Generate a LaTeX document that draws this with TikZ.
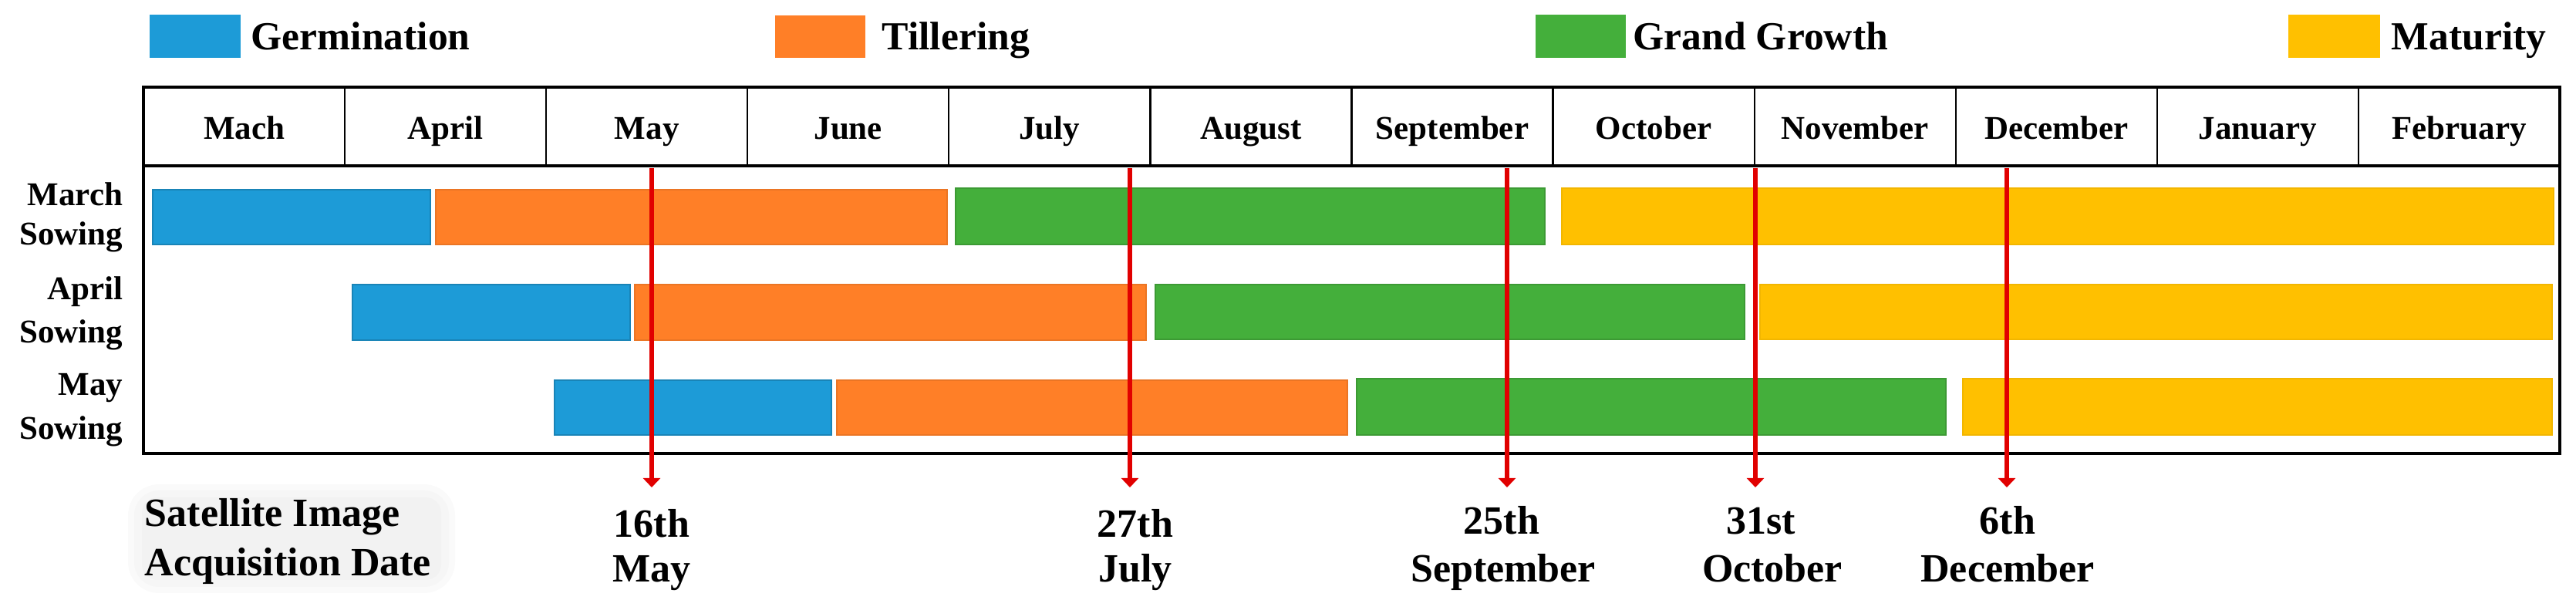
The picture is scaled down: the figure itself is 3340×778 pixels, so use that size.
\documentclass[tikz,border=0pt]{standalone}
\usepackage{fontspec}
\setmainfont{Liberation Serif}
\usetikzlibrary{arrows.meta}
\definecolor{cgerm}{HTML}{1D9BD7}
\definecolor{ctill}{HTML}{FF7F27}
\definecolor{cgrand}{HTML}{44AF3B}
\definecolor{cmat}{HTML}{FFC000}
\definecolor{cred}{HTML}{E10000}
\begin{document}
\begin{tikzpicture}[x=0.25pt,y=-0.25pt,
  lgtext/.style={font=\bfseries\fontsize{12.9}{15}\selectfont, anchor=base west, inner sep=0pt},
  mtext/.style={font=\bfseries\fontsize{10.75}{13}\selectfont, anchor=base, inner sep=0pt},
  rtext/.style={font=\bfseries\fontsize{10.75}{13}\selectfont, anchor=base east, inner sep=0pt},
  dtext/.style={font=\bfseries\fontsize{13}{15}\selectfont, anchor=base, inner sep=0pt},
  stext/.style={font=\bfseries\fontsize{13}{15}\selectfont, anchor=base west, inner sep=0pt},
  bar/.style={line width=0.3pt},
  germ/.style={bar, fill=cgerm, draw=cgerm!85!black},
  till/.style={bar, fill=ctill, draw=ctill!92!black},
  grand/.style={bar, fill=cgrand, draw=cgrand!88!black},
  mat/.style={bar, fill=cmat, draw=cmat!95!black},
  frame/.style={draw=black, line width=1pt},
  divider/.style={draw=black, line width=0.55pt},
  acq/.style={draw=cred, line width=1.6pt, -{Triangle[width=5.5pt,length=3pt]}}
]
\useasboundingbox (0,0) rectangle (3340,778);

% ---------- legend ----------
\fill[cgerm] (194,19) rectangle (312,75);
\node[lgtext] (lg1) at (325,65) {Germination};
\fill[ctill] (1005,20) rectangle (1122,75);
\node[lgtext] (lg2) at (1143,65) {Tillering};
\fill[cgrand] (1991,19) rectangle (2108,75);
\node[lgtext] (lg3) at (2117,65) {Grand Growth};
\fill[cmat] (2967,19) rectangle (3086,75);
\node[lgtext] (lg4) at (3100,65) {Maturity};

% ---------- bars ----------
% March sowing
\draw[germ]  (198,246) rectangle (558,317);
\draw[till]  (565,246) rectangle (1228,317);
\draw[grand] (1239,244) rectangle (2003,317);
\draw[mat]   (2025,244) rectangle (3311,317);
% April sowing
\draw[germ]  (457,369) rectangle (817,441);
\draw[till]  (823,369) rectangle (1486,441);
\draw[grand] (1498,369) rectangle (2262,440);
\draw[mat]   (2282,369) rectangle (3309,440);
% May sowing
\draw[germ]  (719,493) rectangle (1078,564);
\draw[till]  (1085,493) rectangle (1747,564);
\draw[grand] (1759,491) rectangle (2523,564);
\draw[mat]   (2545,491) rectangle (3309,564);

% ---------- table ----------
\foreach \i in {1,...,11}{
  \draw[divider] ({186+\i*261.08},113) -- ({186+\i*261.08},215);
}
\draw[frame] (186,113) rectangle (3319,588);
\draw[frame] (186,215) -- (3319,215);

\foreach \m [count=\i] in {Mach,April,May,June,July,August,September,October,November,December,January,February}{
  \node[mtext] (m\i) at ({186+(\i-0.5)*261.08},181) {\m};
}

% row labels
\node[rtext] (r1a) at (160,267) {March};
\node[rtext] (r1b) at (160,318) {Sowing};
\node[rtext] (r2a) at (160,389) {April};
\node[rtext] (r2b) at (160,445) {Sowing};
\node[rtext] (r3a) at (160,513) {May};
\node[rtext] (r3b) at (160,570) {Sowing};

% ---------- acquisition dates ----------
\coordinate (s1) at (845,218);  \coordinate (e1) at (845,632);
\coordinate (s2) at (1465,218); \coordinate (e2) at (1465,632);
\coordinate (s3) at (1954,218); \coordinate (e3) at (1954,632);
\coordinate (s4) at (2276,218); \coordinate (e4) at (2276,632);
\coordinate (s5) at (2602,218); \coordinate (e5) at (2602,632);
\foreach \k in {1,...,5}{ \draw[acq] (s\k) -- (e\k); }

\node[dtext] (d1a) at (845,697) {16th};
\node[dtext] (d1b) at (845,755) {May};
\node[dtext] (d2a) at (1472,697) {27th};
\node[dtext] (d2b) at (1472,755) {July};
\node[dtext] (d3a) at (1947,693) {25th};
\node[dtext] (d3b) at (1949,755) {September};
\node[dtext] (d4a) at (2283,693) {31st};
\node[dtext] (d4b) at (2298,755) {October};
\node[dtext] (d5a) at (2603,693) {6th};
\node[dtext] (d5b) at (2603,755) {December};

% satellite label with soft background
\fill[black!2, rounded corners=10] (166,628) rectangle (590,769);
\fill[black!3.5, rounded corners=8] (174,636) rectangle (582,761);
\fill[black!5, rounded corners=5] (184,645) rectangle (572,752);
\node[stext] (sat1) at (187,683) {Satellite Image};
\node[stext] (sat2) at (187,747) {Acquisition Date};
\end{tikzpicture}
\end{document}
